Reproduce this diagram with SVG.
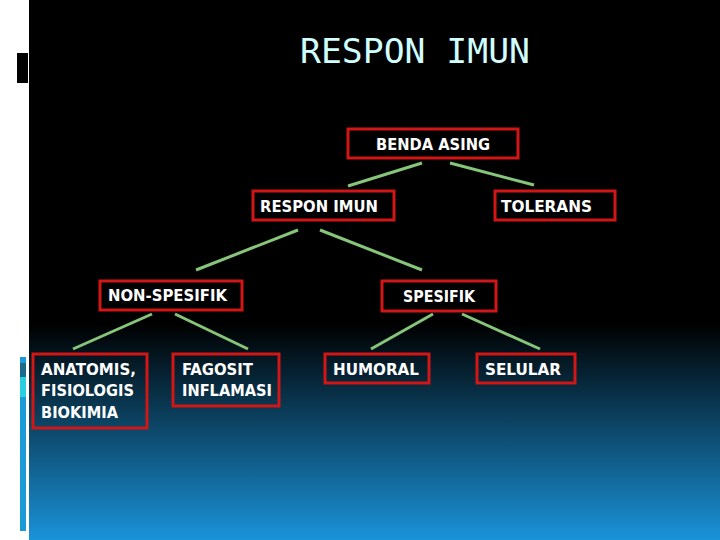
<svg xmlns="http://www.w3.org/2000/svg" width="720" height="540" viewBox="0 0 720 540">
<defs>
<linearGradient id="bg" x1="0" y1="0" x2="0" y2="540" gradientUnits="userSpaceOnUse">
<stop offset="0" stop-color="#000"/>
<stop offset="0.6" stop-color="#000"/>
<stop offset="1" stop-color="#1a93d9"/>
</linearGradient>
</defs>
<style>
.box{fill:none;stroke:#d21515;stroke-width:3}
.lbl{fill:#fff;font-family:"DejaVu Sans Condensed","DejaVu Sans",sans-serif;font-weight:bold;font-size:15px}
.con line{stroke:#86c57a;stroke-width:3}
</style>
<rect x="0" y="0" width="720" height="540" fill="#fff"/>
<rect x="29" y="0" width="691" height="540" fill="url(#bg)"/>
<rect x="17" y="53" width="11" height="30" fill="#000"/>
<rect x="20" y="357" width="6" height="6" fill="#1a9ad6"/>
<rect x="20" y="363" width="6" height="14" fill="#1a6a8a"/>
<rect x="20" y="377" width="6" height="20" fill="#2acfdf"/>
<rect x="20" y="397" width="6" height="134" fill="#1a9ad6"/>
<text x="300" y="63" fill="#d0ffff" font-family="DejaVu Sans Mono, monospace" font-size="33" textLength="230" lengthAdjust="spacingAndGlyphs">RESPON IMUN</text>
<g class="con">
<line x1="422" y1="163" x2="348" y2="186"/>
<line x1="450" y1="163" x2="534" y2="185"/>
<line x1="298" y1="230" x2="196" y2="270"/>
<line x1="320" y1="230" x2="422" y2="270"/>
<line x1="152" y1="314" x2="73" y2="349"/>
<line x1="175" y1="314" x2="248" y2="349"/>
<line x1="433" y1="314" x2="371" y2="349"/>
<line x1="462" y1="314" x2="540" y2="349"/>
</g>
<g id="benda"><rect class="box" x="348" y="129" width="170" height="29"/><text class="lbl" x="376" y="150" textLength="114" lengthAdjust="spacingAndGlyphs">BENDA ASING</text></g>
<g id="respon"><rect class="box" x="253" y="191" width="141" height="29"/><text class="lbl" x="260" y="212" textLength="118" lengthAdjust="spacingAndGlyphs">RESPON IMUN</text></g>
<g id="tolerans"><rect class="box" x="495" y="191" width="120" height="29"/><text class="lbl" x="501" y="212" textLength="91" lengthAdjust="spacingAndGlyphs">TOLERANS</text></g>
<g id="nonspesifik"><rect class="box" x="100" y="281" width="142" height="29"/><text class="lbl" x="108" y="301" textLength="119" lengthAdjust="spacingAndGlyphs">NON-SPESIFIK</text></g>
<g id="spesifik"><rect class="box" x="382" y="281" width="114" height="30"/><text class="lbl" x="403" y="302" textLength="72" lengthAdjust="spacingAndGlyphs">SPESIFIK</text></g>
<g id="anatomis"><rect class="box" x="33" y="354" width="114" height="74"/><text class="lbl" x="41" y="375" textLength="95" lengthAdjust="spacingAndGlyphs">ANATOMIS,</text><text class="lbl" x="41" y="396" textLength="93" lengthAdjust="spacingAndGlyphs">FISIOLOGIS</text><text class="lbl" x="41" y="418" textLength="77" lengthAdjust="spacingAndGlyphs">BIOKIMIA</text></g>
<g id="fagosit"><rect class="box" x="173" y="354" width="106" height="52"/><text class="lbl" x="182" y="375" textLength="71" lengthAdjust="spacingAndGlyphs">FAGOSIT</text><text class="lbl" x="182" y="396" textLength="90" lengthAdjust="spacingAndGlyphs">INFLAMASI</text></g>
<g id="humoral"><rect class="box" x="325" y="354" width="104" height="29"/><text class="lbl" x="333" y="375" textLength="86" lengthAdjust="spacingAndGlyphs">HUMORAL</text></g>
<g id="selular"><rect class="box" x="477" y="354" width="98" height="29"/><text class="lbl" x="485" y="375" textLength="76" lengthAdjust="spacingAndGlyphs">SELULAR</text></g>
</svg>
